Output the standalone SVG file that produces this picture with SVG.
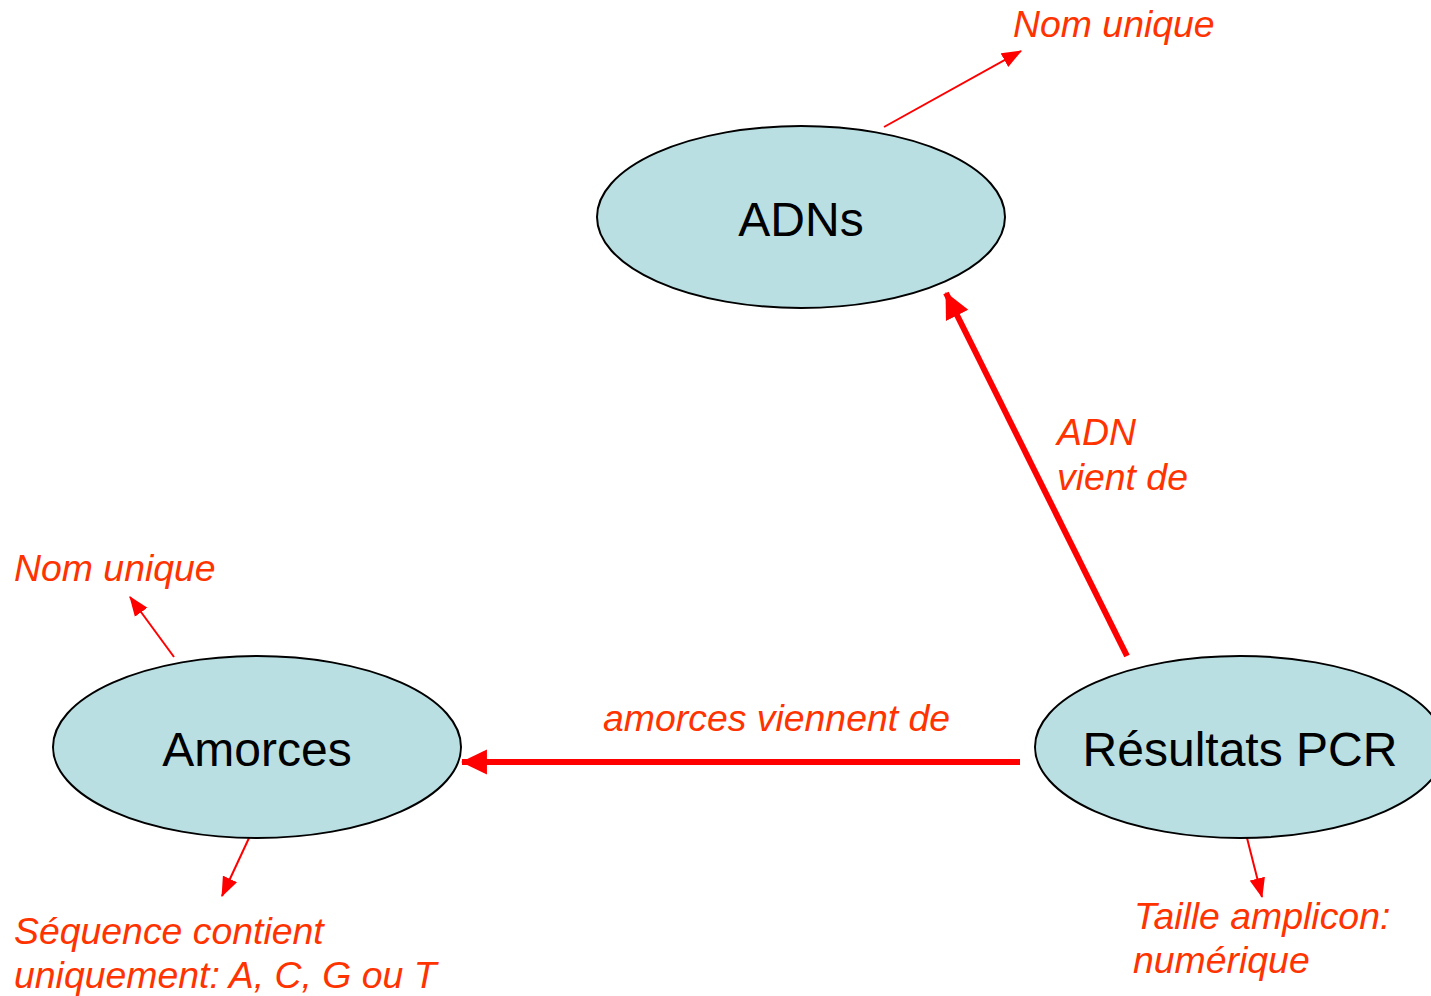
<svg xmlns="http://www.w3.org/2000/svg" width="1431" height="996" viewBox="0 0 1431 996">
<style>
.node{fill:#b9dfe2;stroke:#000;stroke-width:2}
.nt{font-family:"Liberation Sans",Arial,sans-serif;font-size:48px;fill:#000;text-anchor:middle}
.lbl{font-family:"Liberation Sans",Arial,sans-serif;font-size:37.4px;font-style:italic;fill:#ff3300}
.thin{stroke:#ff0000;stroke-width:2;fill:none;marker-end:url(#ah)}
.thick{stroke:#ff0000;stroke-width:6;fill:none;marker-end:url(#ahb)}
</style>
<defs>
<marker id="ah" markerUnits="userSpaceOnUse" markerWidth="20" markerHeight="16" refX="17" refY="7" orient="auto" viewBox="0 0 18 14">
<path d="M0,0 L18,7 L0,14 Z" fill="#ff0000"/>
</marker>
<marker id="ahb" markerUnits="userSpaceOnUse" markerWidth="26" markerHeight="26" refX="24" refY="12" orient="auto" viewBox="0 0 25 24">
<path d="M0,0 L25,12 L0,24 Z" fill="#ff0000"/>
</marker>
</defs>
<rect width="1431" height="996" fill="#fff"/>
<g id="connectors">
<line class="thin" x1="884" y1="127" x2="1021" y2="51"/>
<line class="thin" x1="174" y1="657" x2="130" y2="597"/>
<line class="thin" x1="249" y1="838" x2="222" y2="896"/>
<line class="thin" x1="1247" y1="838" x2="1262" y2="897"/>
<line class="thick" x1="1127" y1="656" x2="946" y2="293"/>
<line class="thick" x1="1020" y1="762" x2="462" y2="762"/>
</g>
<g id="adns">
<ellipse class="node" cx="801" cy="217" rx="204" ry="91"/>
<text class="nt" x="801" y="236">ADNs</text>
</g>
<g id="amorces">
<ellipse class="node" cx="257" cy="747" rx="204" ry="91"/>
<text class="nt" x="257" y="766">Amorces</text>
</g>
<g id="resultats">
<ellipse class="node" cx="1240" cy="747" rx="205" ry="91"/>
<text class="nt" x="1240" y="766">Résultats PCR</text>
</g>
<g id="labels">
<text class="lbl" x="1013" y="37">Nom unique</text>
<text class="lbl" x="14" y="581">Nom unique</text>
<text class="lbl" x="1057" y="445">ADN</text>
<text class="lbl" x="1057" y="490">vient de</text>
<text class="lbl" x="603" y="731">amorces viennent de</text>
<text class="lbl" x="14" y="944">Séquence contient</text>
<text class="lbl" x="14" y="988">uniquement: A, C, G ou T</text>
<text class="lbl" x="1134" y="929">Taille amplicon:</text>
<text class="lbl" x="1133" y="973">numérique</text>
</g>
</svg>
